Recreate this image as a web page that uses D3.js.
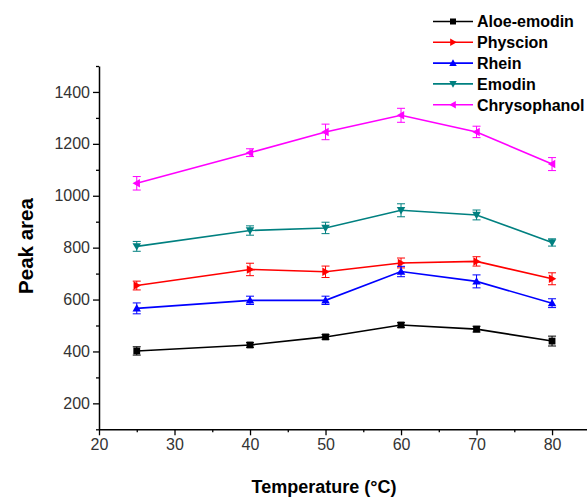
<!DOCTYPE html>
<html>
<head>
<meta charset="utf-8">
<script src="https://cdn.jsdelivr.net/npm/d3@7"></script>
<style>
  body { margin: 0; background: #fff; }
  svg { display: block; font-family: "Liberation Sans", Arial, sans-serif; }
</style>
</head>
<body>
<svg id="chart" width="587" height="497"></svg>
<script>
// temperatures (°C)
var temps = [25, 40, 50, 60, 70, 80];

var seriesNames = ["Aloe-emodin", "Physcion", "Rhein", "Emodin", "Chrysophanol"];
var seriesColors = ["#000000", "#ff0000", "#0000ff", "#008080", "#ff00ff"];
var seriesSymbols = ["square", "right", "up", "down", "left"];

var aloeEmodin   = [402, 425, 456, 502, 486, 440];
var physcion     = [654, 716, 707, 741, 747, 680];
var rhein        = [566, 597, 597, 708, 670, 586];
var emodin       = [805, 866, 876, 944, 926, 820];
var chrysophanol = [1048, 1166, 1246, 1310, 1246, 1122];

var aloeEmodinErr   = [16, 9, 9, 9, 11, 19];
var physcionErr     = [17, 24, 22, 19, 18, 23];
var rheinErr        = [21, 16, 16, 20, 25, 17];
var emodinErr       = [19, 18, 22, 25, 19, 14];
var chrysophanolErr = [26, 15, 30, 27, 22, 25];

var xTicks = [20, 30, 40, 50, 60, 70, 80];
var yTicks = [200, 400, 600, 800, 1000, 1200, 1400];

var values = [aloeEmodin, physcion, rhein, emodin, chrysophanol];
var errors = [aloeEmodinErr, physcionErr, rheinErr, emodinErr, chrysophanolErr];

var svg = d3.select("#chart");

var x = d3.scaleLinear().domain([20, 85]).range([99, 589.8]);
var y = d3.scaleLinear().domain([100, 1500]).range([429.3, 66]);

// axes
svg.append("g")
    .attr("transform", "translate(0," + y(100) + ")")
    .call(d3.axisBottom(x).tickValues(xTicks).tickFormat(d3.format("d"))
      .tickSize(6).tickPadding(3).tickSizeOuter(0));
svg.append("g")
    .attr("transform", "translate(0," + y(100) + ")")
    .call(d3.axisBottom(x).tickValues(d3.range(25, 85, 10)).tickSize(3).tickFormat("").tickSizeOuter(0))
    .select(".domain").remove();

svg.append("g")
    .attr("transform", "translate(" + x(20) + ",0)")
    .call(d3.axisLeft(y).tickValues(yTicks).tickFormat(d3.format("d"))
      .tickSize(6).tickPadding(3).tickSizeOuter(0));
svg.append("g")
    .attr("transform", "translate(" + x(20) + ",0)")
    .call(d3.axisLeft(y).tickValues(d3.range(100, 1501, 200)).tickSize(3).tickFormat("").tickSizeOuter(0))
    .select(".domain").remove();

svg.selectAll(".domain").attr("stroke", "#000").attr("stroke-width", 1.5);
svg.selectAll(".tick line").attr("stroke", "#000").attr("stroke-width", 1.3);
svg.selectAll(".tick text").attr("font-size", 16).attr("fill", "#333")
    .attr("font-family", "'Liberation Sans', Arial, sans-serif");

// axis titles
svg.append("text")
    .attr("x", 324).attr("y", 493)
    .attr("text-anchor", "middle")
    .attr("font-size", 18).attr("font-weight", "bold")
    .text("Temperature (°C)");

svg.append("text")
    .attr("transform", "translate(33,246) rotate(-90)")
    .attr("text-anchor", "middle")
    .attr("font-size", 20.5).attr("font-weight", "bold")
    .text("Peak area");

function markerPath(sym, s) {
  if (sym === "square") return "M" + (-s) + "," + (-s) + "h" + 2 * s + "v" + 2 * s + "h" + (-2 * s) + "Z";
  var h = s * 1.25;
  if (sym === "up") return "M0," + (-h) + "L" + h + "," + (h * 0.75) + "L" + (-h) + "," + (h * 0.75) + "Z";
  if (sym === "down") return "M0," + h + "L" + h + "," + (-h * 0.75) + "L" + (-h) + "," + (-h * 0.75) + "Z";
  if (sym === "right") return "M" + h + ",0L" + (-h * 0.75) + "," + (-h) + "L" + (-h * 0.75) + "," + h + "Z";
  return "M" + (-h) + ",0L" + (h * 0.75) + "," + (-h) + "L" + (h * 0.75) + "," + h + "Z";
}

var line = d3.line()
    .x(function(d) { return x(d.t); })
    .y(function(d) { return y(d.v); });

seriesNames.forEach(function(name, i) {
  var data = temps.map(function(t, j) { return { t: t, v: values[i][j], e: errors[i][j] }; });
  var col = seriesColors[i];
  var g = svg.append("g");

  g.append("path")
      .datum(data)
      .attr("fill", "none")
      .attr("stroke", col)
      .attr("stroke-width", 1.6)
      .attr("d", line);

  var eb = g.selectAll(".err").data(data).enter().append("g");
  eb.append("line")
      .attr("x1", function(d) { return x(d.t); })
      .attr("x2", function(d) { return x(d.t); })
      .attr("y1", function(d) { return y(d.v - d.e); })
      .attr("y2", function(d) { return y(d.v + d.e); })
      .attr("stroke", col).attr("stroke-width", 1);
  [-1, 1].forEach(function(sgn) {
    eb.append("line")
        .attr("x1", function(d) { return x(d.t) - 4; })
        .attr("x2", function(d) { return x(d.t) + 4; })
        .attr("y1", function(d) { return y(d.v + sgn * d.e); })
        .attr("y2", function(d) { return y(d.v + sgn * d.e); })
        .attr("stroke", col).attr("stroke-width", 1);
  });

  g.selectAll(".mk").data(data).enter().append("path")
      .attr("transform", function(d) { return "translate(" + x(d.t) + "," + y(d.v) + ")"; })
      .attr("d", markerPath(seriesSymbols[i], 3.4))
      .attr("fill", col);
});

// legend
var legend = svg.append("g");
seriesNames.forEach(function(name, i) {
  var ly = 21.5 + i * 20.8;
  legend.append("line")
      .attr("x1", 433).attr("x2", 473)
      .attr("y1", ly).attr("y2", ly)
      .attr("stroke", seriesColors[i]).attr("stroke-width", 1.6);
  legend.append("path")
      .attr("transform", "translate(453," + ly + ")")
      .attr("d", markerPath(seriesSymbols[i], 3))
      .attr("fill", seriesColors[i]);
  legend.append("text")
      .attr("x", 477).attr("y", ly + 5.8)
      .attr("font-size", 16).attr("font-weight", "bold")
      .text(name);
});
</script>
</body>
</html>
